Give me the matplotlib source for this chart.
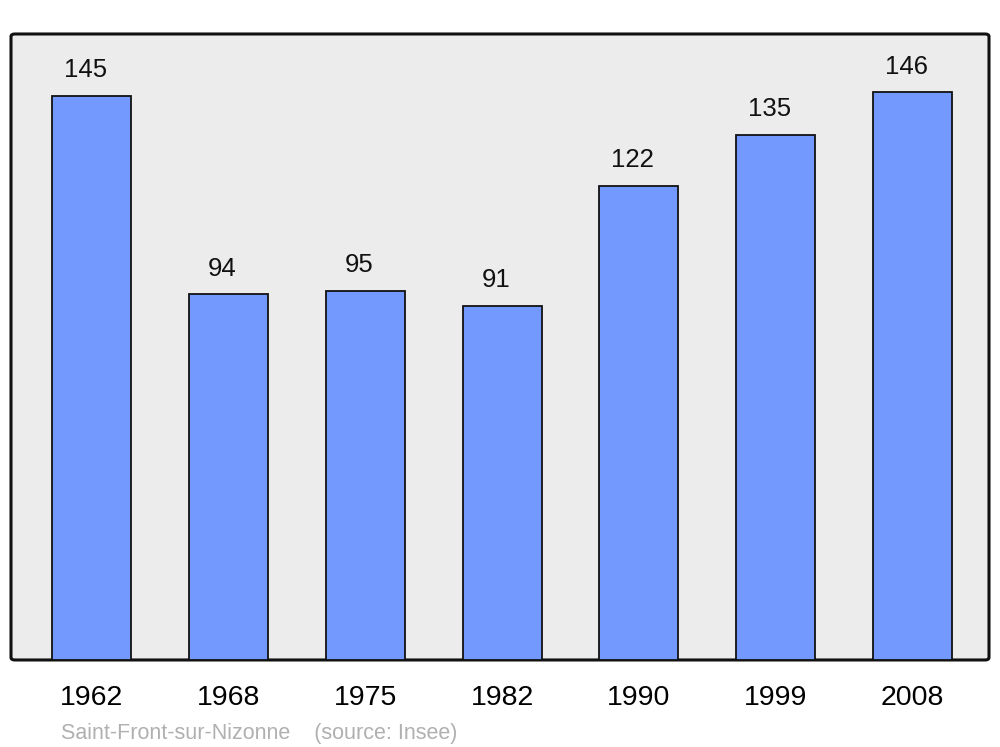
import matplotlib
matplotlib.use("Agg")
import matplotlib.pyplot as plt
from matplotlib.patches import FancyBboxPatch

years = ["1962", "1968", "1975", "1982", "1990", "1999", "2008"]
population = [145, 94, 95, 91, 122, 135, 146]
title_text = "Saint-Front-sur-Nizonne    (source: Insee)"

plt.rcParams['font.family'] = ['Liberation Sans', 'DejaVu Sans']

fig = plt.figure(figsize=(10, 7.47), dpi=100)
ax = fig.add_axes([0.011, 0.1165, 0.978, 0.838])
ax.set_facecolor('none')
for s in ax.spines.values():
    s.set_visible(False)

bg = FancyBboxPatch((0, 0), 1, 1, boxstyle="round,pad=0,rounding_size=0.004",
                    transform=ax.transAxes, facecolor='#ececec', edgecolor='#111111',
                    linewidth=2.2, zorder=0, clip_on=False)
ax.add_patch(bg)

xs = list(range(len(years)))
bars = ax.bar(xs, population, width=0.578, color='#7399ff', edgecolor='#111111',
              linewidth=1.3, zorder=2)
ax.set_xlim(-0.592, 6.56)
ax.set_ylim(0, 161)

for x, v in zip(xs, population):
    ax.annotate(str(v), (x, v), xytext=(-4.6, 13.5), textcoords='offset points',
                ha='center', va='baseline', fontsize=18.5, color='#111111')

ax.set_xticks(xs)
ax.set_xticklabels(years, fontsize=20.5)
ax.tick_params(axis='x', length=0, pad=18)
ax.set_yticks([])

fig.text(0.061, 1 - 733 / 747, title_text, fontsize=15.5, color='#b0b0b0',
         ha='left', va='center')

fig.savefig('out.png', dpi=100)
